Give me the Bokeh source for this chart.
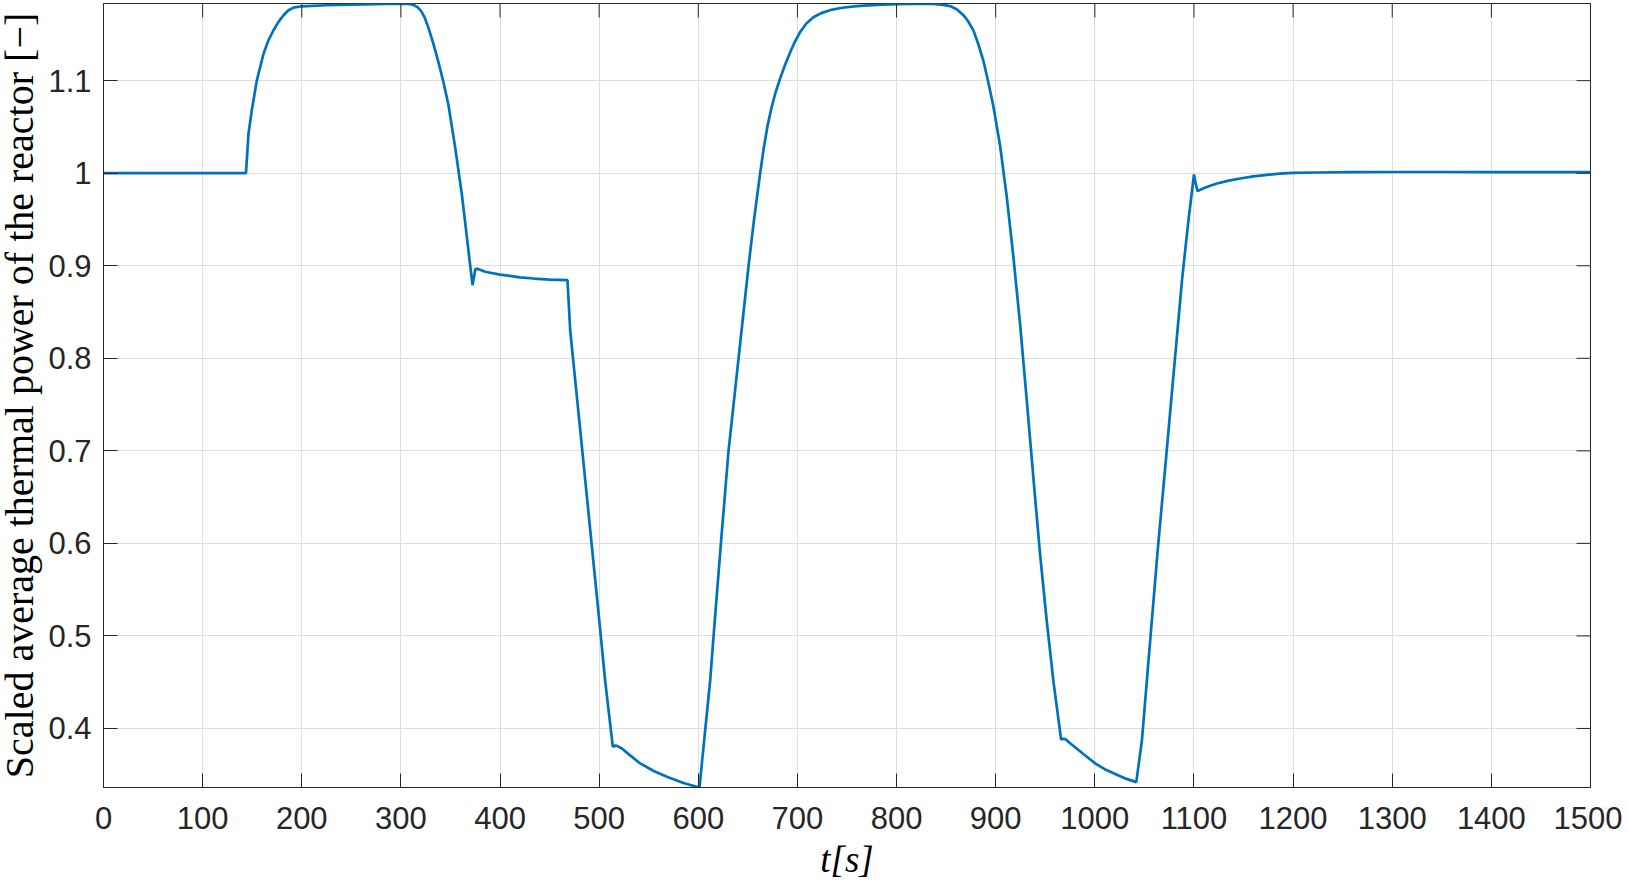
import math
from bokeh.plotting import figure
from bokeh.models import Range1d, FixedTicker
from bokeh.embed import file_html
from bokeh.resources import INLINE

# ---- data ----
t_s = [0, 143.7, 146.3, 149.6, 154.7, 161.4, 166.4, 171.5, 176.5, 181.6,
       186.6, 191.7, 200, 225, 250, 275, 300, 306, 310, 314,
       317, 320.5, 324, 328, 333, 338, 343, 348, 355, 361.5,
       365, 369.5, 372.3, 375, 376.5, 385, 400, 420, 434, 450,
       468, 470.8, 480, 490, 500, 506, 510, 513.8, 516, 518,
       522.9, 530, 541.4, 555, 568.3, 585, 601.2, 606, 612, 615.4,
       622.8, 630.5, 640.6, 650.7, 656, 662.4, 666, 670, 674, 678,
       682.6, 687, 692.6, 697, 702.7, 709, 716.1, 724, 732.9, 745,
       759.7, 780, 800, 833.6, 845, 854, 861, 867.4, 872, 877.5,
       882, 887.5, 892, 897.6, 904.4, 911.1, 917.8, 924.5, 931.3, 938,
       944.7, 951.4, 958.1, 966, 968, 970.2, 975, 982, 990, 1000.7,
       1010, 1022.3, 1032, 1041.8, 1047.5, 1052.5, 1063.6, 1072.1, 1080, 1088,
       1094, 1100, 1101.5, 1103.6, 1108, 1115, 1123.2, 1135, 1146.7, 1160,
       1173.6, 1186, 1200, 1225, 1257, 1300, 1350, 1400, 1500]
power = [1.0, 1.0, 1.043, 1.068, 1.1005, 1.129, 1.1437, 1.1545, 1.1635, 1.1707,
         1.1761, 1.179, 1.1804, 1.1815, 1.1822, 1.1828, 1.1833, 1.1831, 1.1825, 1.1812,
         1.1792, 1.1752, 1.1682, 1.1565, 1.139, 1.1195, 1.098, 1.0735, 1.026, 0.977,
         0.945, 0.904, 0.879, 0.896, 0.897, 0.8935, 0.8905, 0.8875, 0.8862, 0.885,
         0.8844, 0.830, 0.732, 0.625, 0.518, 0.452, 0.415, 0.380, 0.3815, 0.3812,
         0.3784, 0.372, 0.3622, 0.354, 0.3477, 0.341, 0.3362, 0.388, 0.452, 0.500,
         0.600, 0.700, 0.800, 0.900, 0.948, 1.000, 1.027, 1.052, 1.0715, 1.0875,
         1.1025, 1.1155, 1.1305, 1.1412, 1.1525, 1.1618, 1.1685, 1.1730, 1.1762, 1.1788,
         1.1806, 1.182, 1.1828, 1.1833, 1.1822, 1.1806, 1.177, 1.1708, 1.1645, 1.1544,
         1.141, 1.1218, 1.101, 1.0727, 1.030, 0.975, 0.910, 0.838, 0.755, 0.671,
         0.589, 0.517, 0.452, 0.388, 0.3888, 0.3885, 0.384, 0.378, 0.371, 0.362,
         0.356, 0.350, 0.3455, 0.342, 0.387, 0.452, 0.595, 0.695, 0.790, 0.885,
         0.945, 0.9986, 0.990, 0.9806, 0.983, 0.986, 0.9889, 0.992, 0.9943, 0.9965,
         0.9982, 0.9995, 1.0003, 1.0008, 1.0012, 1.0013, 1.0013, 1.0012, 1.0011]
assert len(t_s) == len(power)

x_ticks = [0, 100, 200, 300, 400, 500, 600, 700, 800, 900, 1000, 1100, 1200, 1300, 1400, 1500]
y_ticks = [0.4, 0.5, 0.6, 0.7, 0.8, 0.9, 1.0, 1.1]
y_tick_labels = ["0.4", "0.5", "0.6", "0.7", "0.8", "0.9", "1", "1.1"]

x_label = "t[s]"
y_label = "Scaled average thermal power of the reactor [\u2212]"

X_MIN, X_MAX = 0, 1500
Y_MIN, Y_MAX = 0.3362, 1.1834

AX = "#262626"
TICK_FONT = "Liberation Sans"
LABEL_FONT = "Liberation Serif"
PAGE_SHIFT = 6  # canvas is shifted left so the y title sits near the page edge

p = figure(width=1628, height=885, output_backend="svg", toolbar_location=None,
           x_range=Range1d(X_MIN, X_MAX), y_range=Range1d(Y_MIN, Y_MAX),
           min_border_left=103, min_border_right=32, min_border_top=3, min_border_bottom=98,
           background_fill_color="white", border_fill_color="white")

xt = FixedTicker(ticks=x_ticks, minor_ticks=[])
yt = FixedTicker(ticks=y_ticks, minor_ticks=[])

p.xaxis.ticker = xt
p.yaxis.ticker = yt
p.xgrid.ticker = xt
p.ygrid.ticker = yt
for g in (p.xgrid, p.ygrid):
    g.grid_line_color = "#dedede"
    g.grid_line_width = 1

p.outline_line_color = AX
p.outline_line_width = 1

p.line(t_s, power, line_color="#0072BD", line_width=2.7)

# mirrored inward tick marks on the top and right edges
p.ray(x=x_ticks, y=[Y_MAX] * len(x_ticks), length=14, length_units="screen",
      angle=-math.pi / 2, line_color=AX, line_width=1)
p.ray(x=[X_MAX] * len(y_ticks), y=y_ticks, length=14, length_units="screen",
      angle=math.pi, line_color=AX, line_width=1)

xa = p.xaxis[0]
ya = p.yaxis[0]
for ax in (xa, ya):
    ax.axis_line_color = AX
    ax.axis_line_width = 1
    ax.major_tick_line_color = AX
    ax.major_tick_line_width = 1
    ax.major_tick_in = 14
    ax.major_tick_out = 0
    ax.minor_tick_in = 0
    ax.minor_tick_out = 0
    ax.major_label_text_font = TICK_FONT
    ax.major_label_text_color = AX
    ax.major_label_text_font_size = "31px"

xa.major_label_standoff = 19
ya.major_label_standoff = 12
ya.major_label_overrides = {v: s for v, s in zip(y_ticks, y_tick_labels)}

xa.axis_label = x_label
xa.axis_label_text_font = LABEL_FONT
xa.axis_label_text_font_style = "italic"
xa.axis_label_text_font_size = "37px"
xa.axis_label_text_color = "#000000"
xa.axis_label_standoff = 7

ya.axis_label = y_label
ya.axis_label_text_font = LABEL_FONT
ya.axis_label_text_font_style = "normal"
ya.axis_label_text_font_size = "40px"
ya.axis_label_text_color = "#000000"
ya.axis_label_standoff = 3

html = file_html(p, INLINE)
html = html.replace(
    "</head>",
    "<style>html,body{margin:0 !important;padding:0 !important;overflow:hidden;}"
    f"body{{margin-left:-{PAGE_SHIFT}px !important;}}</style></head>", 1)
open("out.html", "w").write(html)
